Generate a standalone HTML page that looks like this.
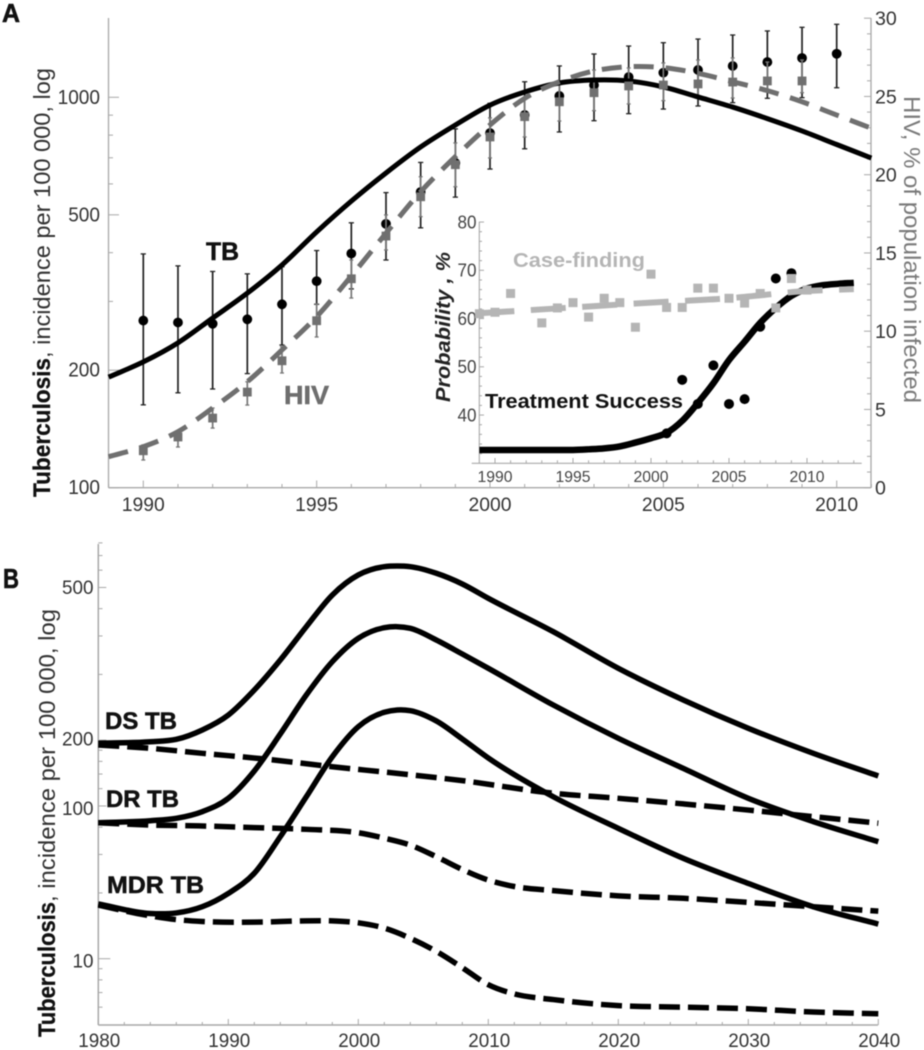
<!DOCTYPE html>
<html lang="en">
<head>
<meta charset="utf-8">
<title>Tuberculosis and HIV incidence</title>
<style>
  html,body{margin:0;padding:0;background:#fff;}
  svg{display:block;width:924px;height:1050px;filter:blur(0.45px);font-family:"Liberation Sans",sans-serif;}
</style>
</head>
<body>
<svg id="chart" xmlns="http://www.w3.org/2000/svg" width="924" height="1050" viewBox="0 0 924 1050">
  <rect x="0" y="0" width="924" height="1050" fill="#fff"/>
  <g id="panelA"></g>
  <g id="inset"></g>
  <g id="panelB"></g>

  <text x="2" y="22" font-size="26" font-weight="bold" fill="#111" stroke="#111" stroke-width="0.6" textLength="18" lengthAdjust="spacingAndGlyphs">A</text>
  <text x="3" y="588" font-size="28" font-weight="bold" fill="#111" stroke="#111" stroke-width="0.6" textLength="16" lengthAdjust="spacingAndGlyphs">B</text>

  <text transform="translate(50,497) rotate(-90)" font-size="24" font-weight="bold" fill="#111" stroke="#111" stroke-width="0.3" textLength="139" lengthAdjust="spacingAndGlyphs">Tuberculosis</text>
  <text transform="translate(50,358) rotate(-90)" font-size="23" fill="#333" textLength="290" lengthAdjust="spacingAndGlyphs">, incidence per 100 000, log</text>
  <text transform="translate(904,96) rotate(90)" font-size="23" fill="#7a7a7a" textLength="307" lengthAdjust="spacingAndGlyphs">HIV, % of population infected</text>

  <text x="206" y="260" font-size="25" font-weight="bold" fill="#111" stroke="#111" stroke-width="0.5" textLength="33" lengthAdjust="spacingAndGlyphs">TB</text>
  <text x="284" y="404" font-size="26" font-weight="bold" fill="#6e6e6e" stroke="#6e6e6e" stroke-width="0.5" textLength="45" lengthAdjust="spacingAndGlyphs">HIV</text>

  <text transform="translate(450,402) rotate(-90)" font-size="20" font-weight="bold" font-style="italic" fill="#222" textLength="150" lengthAdjust="spacingAndGlyphs">Probability , %</text>
  <text x="513" y="267" font-size="20" font-weight="bold" fill="#b5b5b5" textLength="132" lengthAdjust="spacingAndGlyphs">Case-finding</text>
  <text x="485" y="408" font-size="20" font-weight="bold" fill="#111" textLength="198" lengthAdjust="spacingAndGlyphs">Treatment Success</text>

  <text transform="translate(55,1037) rotate(-90)" font-size="24" font-weight="bold" fill="#111" stroke="#111" stroke-width="0.3" textLength="135" lengthAdjust="spacingAndGlyphs">Tuberculosis</text>
  <text transform="translate(55,902) rotate(-90)" font-size="23" fill="#333" textLength="293" lengthAdjust="spacingAndGlyphs">, incidence per 100 000, log</text>
  <text x="105" y="729" font-size="24" font-weight="bold" fill="#111" stroke="#111" stroke-width="0.5" textLength="72" lengthAdjust="spacingAndGlyphs">DS TB</text>
  <text x="106" y="807" font-size="24" font-weight="bold" fill="#111" stroke="#111" stroke-width="0.5" textLength="73" lengthAdjust="spacingAndGlyphs">DR TB</text>
  <text x="107" y="893" font-size="24" font-weight="bold" fill="#111" stroke="#111" stroke-width="0.5" textLength="97" lengthAdjust="spacingAndGlyphs">MDR TB</text>
</svg>

<script>
/* ---------- Panel A data ---------- */
var curveYearsA = [1989,1990,1991,1992,1993,1994,1995,1996,1997,1998,1999,2000,2001,2002,2003,2004,2005,2006,2007,2008,2009,2010,2011];
var tbCurve = [192,210,235,272,315,372,452,542,640,746,849,955,1032,1088,1107,1101,1063,1002,944,882,820,757,699];
var hivCurve = [1.98,2.62,3.58,5.09,6.77,8.80,10.93,13.53,16.26,18.91,21.15,23.18,24.88,25.94,26.63,26.90,26.84,26.48,25.94,25.37,24.66,23.81,22.97];

var tbYears = [1990,1991,1992,1993,1994,1995,1996,1997,1998,1999,2000,2001,2002,2003,2004,2005,2006,2007,2008,2009,2010];
var tbPoints = [268,265,263,270,295,338,398,474,572,679,810,901,1008,1075,1127,1156,1175,1203,1231,1261,1293];
var tbHigh = [397,370,358,353,368,405,477,570,681,830,965,1096,1203,1291,1353,1380,1410,1444,1479,1511,1538];
var tbLow = [163,175,179,196,232,295,323,383,463,555,655,738,815,871,908,933,950,969,994,998,1058];

var hivYears = [1990,1991,1992,1993,1994,1995,1996,1997,1998,1999,2000,2001,2002,2003,2004,2005,2006,2007,2008,2009];
var hivPoints = [2.36,3.24,4.45,6.11,8.11,10.67,13.35,16.08,18.59,20.64,22.41,23.71,24.66,25.24,25.67,25.73,25.80,25.92,25.99,25.99];
var hivHigh = [2.73,3.58,5.09,6.77,9.01,11.74,14.55,17.43,19.87,22.03,23.63,24.84,25.86,26.69,26.82,27.14,27.33,27.46,27.2,27.33];
var hivLow = [1.77,2.60,3.81,5.28,7.33,9.63,12.12,15.19,17.32,19.23,21.07,22.41,23.43,24.09,24.52,24.73,24.9,24.9,25.3,25.24];

var xTicksA = [1990,1995,2000,2005,2010];
var xMinorA = [1989,1991,1992,1993,1994,1996,1997,1998,1999,2001,2002,2003,2004,2006,2007,2008,2009,2011];
var yTicksA = [1000,500,200,100];
var yMinorA = [900,800,700,600,400,300];
var rightTicksA = [30,25,20,15,10,5,0];
var rightMinorA = [29,28,27,26,24,23,22,21,19,18,17,16,14,13,12,11,9,8,7,6,4,3,2,1];

/* ---------- Inset data ---------- */
var treatCurveYears = [1989,1990,1992,1994,1995,1996,1997,1998,1999,2000,2001,2002,2003,2004,2005,2006,2007,2008,2009,2010,2011,2012,2013];
var treatCurve = [32.76,32.76,32.76,32.76,32.76,32.9,33.1,33.5,34.3,35.2,36.3,38.8,42.5,46.6,51.4,55.2,59.1,62.2,64.7,66.2,66.9,67.2,67.4];
var treatYears = [2001,2002,2003,2004,2005,2006,2007,2008,2009];
var treatPoints = [36.2,47.3,42.3,50.3,42.3,43.3,58.3,68.3,69.4];

var caseCurveYears = [1989,1994.5,2000,2005,2010,2013];
var caseCurve = [61.1,62.2,63.3,64.2,65.7,66.1];
var caseYears = [1989,1990,1991,1993,1994,1995,1996,1997,1998,1999,2000,2001,2002,2003,2004,2005,2006,2007,2008,2009,2010];
var casePoints = [61,61.3,65.2,59.1,62.2,63.3,60.3,64.2,63.3,58.2,69.2,62.3,62.3,66.3,66.3,64.2,63.2,65.2,62.2,68.3,65.9];

var xTicksI = [1990,1995,2000,2005,2010];
var xMinorI = [1991,1992,1993,1994,1996,1997,1998,1999,2001,2002,2003,2004,2006,2007,2008,2009,2011,2012,2013];
var yTicksI = [80,70,60,50,40];
var yMinorI = [78,76,74,72,68,66,64,62,58,56,54,52,48,46,44,42,38,36,34,32];

/* ---------- Panel B data ---------- */
var solidYearsB = [1980,1984,1986,1988,1990,1992,1994,1996,1998,2000,2002,2003,2004,2006,2008,2010,2015,2020,2025,2030,2035,2040];
var dsSolid = [96.8,98.4,100.9,111.4,130.4,169.7,232.8,330.7,461.8,570.4,622.4,627,622.4,580.6,518.7,446,313.7,213.3,152.8,113.4,87.1,68.6];
var drSolid = [41.9,42.8,43.9,47.1,54.2,72.3,106.8,161,228.7,292.7,327.2,330.7,325.1,287.5,248,213.3,144.9,102,74.3,54.2,42.4,34.3];
var mdrSolid = [17.8,16.1,16.2,17.3,19.9,24.6,36.2,55.1,84,115.3,134.2,137.5,136.5,122.5,101.3,82.9,55.1,39.5,28.8,22.1,17.3,14.4];

var dsDashYears = [1980,1984,1988,1993,1998,2003,2008,2015,2020,2025,2030,2035,2040];
var dsDash = [95.1,91.8,87.1,81.8,75.6,70.5,65.3,57.2,54.2,51.1,47.9,44.7,41.7];
var drDashYears = [1980,1984,1988,1992,1996,2000,2002,2004,2006,2008,2010,2012,2015,2020,2025,2030,2035,2040];
var drDash = [41.9,40.9,40.5,39.8,39.1,37.7,35.6,33.1,29.3,25.6,22.9,21.4,20.5,19.4,18.9,18.1,17.3,16.5];
var mdrDashYears = [1980,1983,1986,1988,1992,1996,1998,2000,2002,2004,2006,2008,2010,2012,2015,2020,2025,2030,2035,2040];
var mdrDash = [17.6,16.1,15.1,14.8,14.7,14.9,14.9,14.6,13.8,12.4,10.8,9.1,7.6,6.9,6.5,6.1,6.0,5.9,5.7,5.6];

var xTicksB = [1980,1990,2000,2010,2020,2030,2040];
var xMinorB = [1982,1984,1986,1988,1992,1994,1996,1998,2002,2004,2006,2008,2012,2014,2016,2018,2022,2024,2026,2028,2032,2034,2036,2038];
/* The printed labels in the figure sit at these log-scale positions. */
var yTicksB = [500,100,50,10];
var yTickLabelsB = ['500','200','100','10'];
var yMinorB = [800,700,600,400,300,200,90,80,70,60,40,30,20,9,8,7,6];

/* ---------- Axis functions ---------- */
function xA(v){ return 143.3 + (v - 1990) * 34.67; }
function yA(v){ return 487.7 - 390.4 * Math.log10(v / 100); }
function rA(v){ return 487.7 - 15.65 * v; }
function xI(v){ return 495 + (v - 1990) * 15.6; }
function yI(v){ return 463.3 - (v - 30) * 4.825; }
function xB(v){ return 98.3 + (v - 1980) * 13; }
function yB(v){ return 958.7 - 218.5 * Math.log10(v / 10); }

/* ---------- Drawing helpers ---------- */
var NS = 'http://www.w3.org/2000/svg';
var axisGrey = '#a8a8a8';
function make(parent, tag, attrs){
  var el = document.createElementNS(NS, tag);
  for (var k in attrs){ el.setAttribute(k, attrs[k]); }
  parent.appendChild(el);
  return el;
}
function smooth(xs, ys){
  var n = xs.length, d = [], m = [], i;
  for (i = 0; i < n - 1; i++){ d.push((ys[i+1] - ys[i]) / (xs[i+1] - xs[i])); }
  m[0] = d[0];
  m[n-1] = d[n-2];
  for (i = 1; i < n - 1; i++){
    var h0 = xs[i] - xs[i-1], h1 = xs[i+1] - xs[i];
    m[i] = (d[i-1] * h1 + d[i] * h0) / (h0 + h1);
  }
  var p = 'M' + xs[0].toFixed(2) + ',' + ys[0].toFixed(2);
  for (i = 0; i < n - 1; i++){
    var h = (xs[i+1] - xs[i]) / 3;
    p += 'C' + (xs[i] + h).toFixed(2) + ',' + (ys[i] + m[i] * h).toFixed(2) + ' ' +
         (xs[i+1] - h).toFixed(2) + ',' + (ys[i+1] - m[i+1] * h).toFixed(2) + ' ' +
         xs[i+1].toFixed(2) + ',' + ys[i+1].toFixed(2);
  }
  return p;
}
function curvePath(parent, years, vals, fx, fy, attrs){
  var a = {d: smooth(years.map(fx), vals.map(fy)), fill: 'none'};
  for (var k in attrs){ a[k] = attrs[k]; }
  return make(parent, 'path', a);
}
function tick(parent, x1, y1, x2, y2, w){
  return make(parent, 'line', {x1: x1, y1: y1, x2: x2, y2: y2, stroke: axisGrey, 'stroke-width': w || 1});
}
function label(parent, x, y, str, size, fill, anchor, width){
  var el = make(parent, 'text', {x: x, y: y, 'font-size': size, fill: fill, 'text-anchor': anchor, textLength: width, lengthAdjust: 'spacingAndGlyphs'});
  el.textContent = str;
  return el;
}

var gA = document.getElementById('panelA');
var gI = document.getElementById('inset');
var gB = document.getElementById('panelB');
var el, i;

/* ---------- Panel A axes ---------- */
el = tick(gA, 108.5, 18, 108.5, 487.7, 1.3);


el = tick(gA, 108.5, 487.7, 871, 487.7, 1.3);


el = tick(gA, 871, 18, 871, 487.7, 1.3);



xTicksA.forEach(function(v){
  var t = tick(gA, xA(v), 487.7, xA(v), 480.5);
  
  
  var l = label(gA, xA(v), 511, String(v), 19, '#333', 'middle', 43);
  
  
});
xMinorA.forEach(function(v){
  var t = tick(gA, xA(v), 487.7, xA(v), 484);
  
  
});
yTicksA.forEach(function(v){
  var t = tick(gA, 108.5, yA(v), 119, yA(v));
  
  
  var s = String(v);
  var l = label(gA, 100, yA(v) + 6.5, s, 20, '#333', 'end', s.length * 10.6);
  
  
});
yMinorA.forEach(function(v){
  var t = tick(gA, 108.5, yA(v), 113, yA(v));
  
  
});
rightTicksA.forEach(function(v){
  var t = tick(gA, 871, rA(v), 864, rA(v));
  
  
  var s = String(v);
  var l = label(gA, 875, rA(v) + 7, s, 19.5, '#333', 'start', s.length * 10.9);
  
  
});
rightMinorA.forEach(function(v){
  var t = tick(gA, 871, rA(v), 867, rA(v));
  
  
});

/* ---------- Panel A marks ---------- */
function errorBar(parent, x, y1, y2, color, w, capHalf){
  make(parent, 'line', {x1: x, y1: y1, x2: x, y2: y2, stroke: color, 'stroke-width': w});
  make(parent, 'line', {x1: x - capHalf, y1: y1, x2: x + capHalf, y2: y1, stroke: color, 'stroke-width': 1.3});
  make(parent, 'line', {x1: x - capHalf, y1: y2, x2: x + capHalf, y2: y2, stroke: color, 'stroke-width': 1.3});
}
for (i = 0; i < tbYears.length; i++){
  el = make(gA, 'g', {});
  
  
  errorBar(el, xA(tbYears[i]), yA(tbHigh[i]), yA(tbLow[i]), '#222', 1.7, 2.6);
}
for (i = 0; i < tbYears.length; i++){
  el = make(gA, 'circle', {cx: xA(tbYears[i]), cy: yA(tbPoints[i]), r: 4.9, fill: '#000'});
  
  
}
for (i = 0; i < hivYears.length; i++){
  el = make(gA, 'g', {});
  
  
  errorBar(el, xA(hivYears[i]), rA(hivHigh[i]), rA(hivLow[i]), '#777', 1.7, 2);
}
el = curvePath(gA, curveYearsA, tbCurve, xA, yA, {stroke: '#000', 'stroke-width': 5});


for (i = 0; i < hivYears.length; i++){
  el = make(gA, 'rect', {x: xA(hivYears[i]) - 4.4, y: rA(hivPoints[i]) - 4.4, width: 8.8, height: 8.8, fill: '#707070'});
  
  
}
el = curvePath(gA, curveYearsA, hivCurve, xA, rA, {stroke: '#6f6f6f', 'stroke-width': 5, 'stroke-dasharray': '20 12'});



/* ---------- Inset axes ---------- */
el = tick(gI, 479.3, 221.7, 479.3, 463.3, 1.1);


el = tick(gI, 471.7, 463.3, 861.7, 463.3, 1.1);


xTicksI.forEach(function(v){
  var t = tick(gI, xI(v), 463.3, xI(v), 458);
  
  
  var l = label(gI, xI(v), 482, String(v), 16, '#444', 'middle', 35);
  
  
});
xMinorI.forEach(function(v){
  var t = tick(gI, xI(v), 463.3, xI(v), 460.3);
  
  
});
yTicksI.forEach(function(v){
  var t = tick(gI, 479.3, yI(v), 484, yI(v));
  
  
  var l = label(gI, 476.5, yI(v) + 6.3, String(v), 18, '#444', 'end', 19);
  
  
});
yMinorI.forEach(function(v){
  var t = tick(gI, 479.3, yI(v), 482, yI(v));
  
  
});

/* ---------- Inset marks ---------- */
for (i = 0; i < treatYears.length; i++){
  el = make(gI, 'circle', {cx: xI(treatYears[i]), cy: yI(treatPoints[i]), r: 5, fill: '#000'});
  
  
}
el = curvePath(gI, treatCurveYears, treatCurve, xI, yI, {stroke: '#000', 'stroke-width': 6.5});


for (i = 0; i < caseYears.length; i++){
  el = make(gI, 'rect', {x: xI(caseYears[i]) - 4.5, y: yI(casePoints[i]) - 4.5, width: 9, height: 9, fill: '#b5b5b5'});
  
  
}
el = curvePath(gI, caseCurveYears, caseCurve, xI, yI, {stroke: '#b5b5b5', 'stroke-width': 6, 'stroke-dasharray': '35 16.5'});



/* ---------- Panel B axes ---------- */
el = tick(gB, 98.3, 544, 98.3, 1025, 1.5);


el = tick(gB, 98.3, 1025, 878, 1025, 1.5);


xTicksB.forEach(function(v){
  var t = tick(gB, xB(v), 1025, xB(v), 1019);
  
  
  var l = label(gB, xB(v) + 1, 1047, String(v), 19, '#333', 'middle', 42);
  
  
});
xMinorB.forEach(function(v){
  var t = tick(gB, xB(v), 1025, xB(v), 1022);
  
  
});
yTicksB.forEach(function(v, idx){
  var len = v === 10 ? 12 : 8;
  var t = tick(gB, 98.3, yB(v), 98.3 + len, yB(v));
  
  
  var s = yTickLabelsB[idx];
  var l = label(gB, 93.5, yB(v) + (s === '200' ? 5.5 : s === '500' ? 6.5 : 9), s, 19, '#333', 'end', s.length * 10.5);
  
  
});
yMinorB.forEach(function(v){
  var t = tick(gB, 98.3, yB(v), 102.5, yB(v));
  
  
});

/* ---------- Panel B marks ---------- */
el = curvePath(gB, solidYearsB, dsSolid, xB, yB, {stroke: '#000', 'stroke-width': 5.5});


el = curvePath(gB, solidYearsB, drSolid, xB, yB, {stroke: '#000', 'stroke-width': 5.5});


el = curvePath(gB, solidYearsB, mdrSolid, xB, yB, {stroke: '#000', 'stroke-width': 5.5});


el = curvePath(gB, dsDashYears, dsDash, xB, yB, {stroke: '#000', 'stroke-width': 5.5, 'stroke-dasharray': '21 8'});


el = curvePath(gB, drDashYears, drDash, xB, yB, {stroke: '#000', 'stroke-width': 5.5, 'stroke-dasharray': '21 8'});


el = curvePath(gB, mdrDashYears, mdrDash, xB, yB, {stroke: '#000', 'stroke-width': 5.5, 'stroke-dasharray': '21 8'});


</script>
</body>
</html>
